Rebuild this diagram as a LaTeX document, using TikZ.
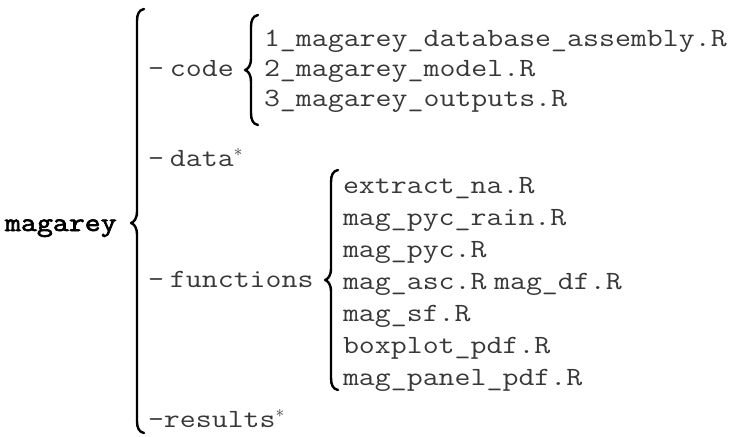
\documentclass[tikz,border=0pt]{standalone}
\usepackage{fontspec}
\setmonofont{Latin Modern Mono}[FakeStretch=1.178]
\newfontfamily\rootfont{Latin Modern Mono}[FakeStretch=1.178, FakeBold=2.5]
\begin{document}
\begin{tikzpicture}[x=1pt, y=-1pt]
\tikzset{
  entry/.style={anchor=base west, inner sep=0pt, outer sep=0pt,
    font=\fontsize{26.3}{30}\selectfont\ttfamily, text=black!78},
  rootlabel/.style={entry, font=\fontsize{26.3}{30}\selectfont\rootfont, text=black},
  brace/.style={line width=2.4pt, line cap=round, line join=round, black}
}
% left curly brace: stem x, top y, middle y, bottom y
\newcommand\treebrace[4]{%
  \draw[brace] (#1+7,#2) .. controls (#1+2,#2+1) and (#1,#2+5) .. (#1,#2+12)
    -- (#1,#3-12) .. controls (#1,#3-4) and (#1-3,#3-1) .. (#1-6,#3)
    .. controls (#1-3,#3+1) and (#1,#3+4) .. (#1,#3+12)
    -- (#1,#4-12) .. controls (#1,#4-5) and (#1+2,#4-1) .. (#1+7,#4);}
\useasboundingbox (0,0) rectangle (730,436);

% root
\node[rootlabel] (root) at (5,231) {magarey};
\treebrace{137}{9}{223}{433}

% code folder
\node[entry] (code) at (148,76) {-\hspace{6pt}code};
\treebrace{251}{15}{70}{125}
\node[entry] (c1) at (264,46) {1\_magarey\_database\_assembly.R};
\node[entry] (c2) at (264,76) {2\_magarey\_model.R};
\node[entry] (c3) at (264,106.5) {3\_magarey\_outputs.R};

% data folder
\node[entry] (data) at (148,166) {-\hspace{6pt}data$^{\ast}$};

% functions folder
\node[entry] (functions) at (148,287) {-\hspace{6pt}functions};
\treebrace{331}{170}{280}{390}
\node[entry] (f1) at (343,193) {extract\_na.R};
\node[entry] (f2) at (343,225) {mag\_pyc\_rain.R};
\node[entry] (f3) at (343,257) {mag\_pyc.R};
\node[entry] (f4) at (343,289) {mag\_asc.R\hspace{7.5pt}mag\_df.R};
\node[entry] (f5) at (343,321) {mag\_sf.R};
\node[entry] (f6) at (343,353) {boxplot\_pdf.R};
\node[entry] (f7) at (343,385) {mag\_panel\_pdf.R};

% results folder
\node[entry] (results) at (148,427) {-results$^{\ast}$};
\end{tikzpicture}
\end{document}
